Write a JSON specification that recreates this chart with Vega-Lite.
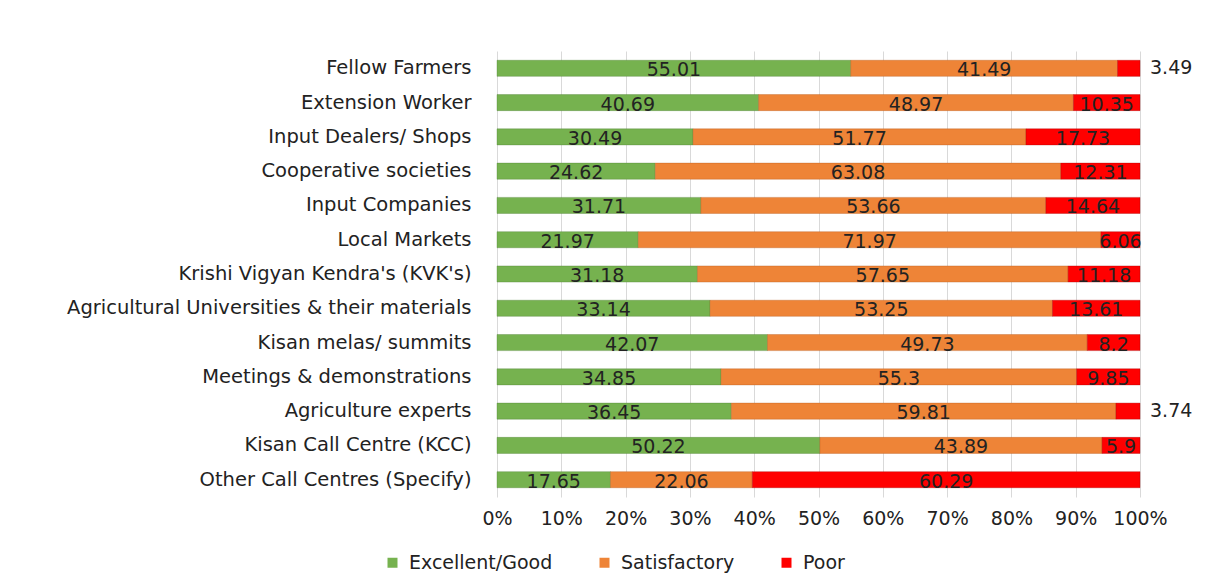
{
  "$schema": "https://vega.github.io/schema/vega-lite/v6.json",
  "width": 643,
  "height": 446,
  "autosize": {"type": "none"},
  "padding": {"left": 497, "top": 51, "right": 66, "bottom": 83},
  "background": "white",
  "config": {
    "font": "DejaVu Sans",
    "view": {"stroke": null}
  },
  "data": {
    "values": [
      {"source": "Fellow Farmers", "rating": "Excellent/Good", "value": 55.01},
      {"source": "Fellow Farmers", "rating": "Satisfactory", "value": 41.49},
      {"source": "Fellow Farmers", "rating": "Poor", "value": 3.49},
      {"source": "Extension Worker", "rating": "Excellent/Good", "value": 40.69},
      {"source": "Extension Worker", "rating": "Satisfactory", "value": 48.97},
      {"source": "Extension Worker", "rating": "Poor", "value": 10.35},
      {"source": "Input Dealers/ Shops", "rating": "Excellent/Good", "value": 30.49},
      {"source": "Input Dealers/ Shops", "rating": "Satisfactory", "value": 51.77},
      {"source": "Input Dealers/ Shops", "rating": "Poor", "value": 17.73},
      {"source": "Cooperative societies", "rating": "Excellent/Good", "value": 24.62},
      {"source": "Cooperative societies", "rating": "Satisfactory", "value": 63.08},
      {"source": "Cooperative societies", "rating": "Poor", "value": 12.31},
      {"source": "Input Companies", "rating": "Excellent/Good", "value": 31.71},
      {"source": "Input Companies", "rating": "Satisfactory", "value": 53.66},
      {"source": "Input Companies", "rating": "Poor", "value": 14.64},
      {"source": "Local Markets", "rating": "Excellent/Good", "value": 21.97},
      {"source": "Local Markets", "rating": "Satisfactory", "value": 71.97},
      {"source": "Local Markets", "rating": "Poor", "value": 6.06},
      {"source": "Krishi Vigyan Kendra's (KVK's)", "rating": "Excellent/Good", "value": 31.18},
      {"source": "Krishi Vigyan Kendra's (KVK's)", "rating": "Satisfactory", "value": 57.65},
      {"source": "Krishi Vigyan Kendra's (KVK's)", "rating": "Poor", "value": 11.18},
      {"source": "Agricultural Universities & their materials", "rating": "Excellent/Good", "value": 33.14},
      {"source": "Agricultural Universities & their materials", "rating": "Satisfactory", "value": 53.25},
      {"source": "Agricultural Universities & their materials", "rating": "Poor", "value": 13.61},
      {"source": "Kisan melas/ summits", "rating": "Excellent/Good", "value": 42.07},
      {"source": "Kisan melas/ summits", "rating": "Satisfactory", "value": 49.73},
      {"source": "Kisan melas/ summits", "rating": "Poor", "value": 8.2},
      {"source": "Meetings & demonstrations", "rating": "Excellent/Good", "value": 34.85},
      {"source": "Meetings & demonstrations", "rating": "Satisfactory", "value": 55.3},
      {"source": "Meetings & demonstrations", "rating": "Poor", "value": 9.85},
      {"source": "Agriculture experts", "rating": "Excellent/Good", "value": 36.45},
      {"source": "Agriculture experts", "rating": "Satisfactory", "value": 59.81},
      {"source": "Agriculture experts", "rating": "Poor", "value": 3.74},
      {"source": "Kisan Call Centre (KCC)", "rating": "Excellent/Good", "value": 50.22},
      {"source": "Kisan Call Centre (KCC)", "rating": "Satisfactory", "value": 43.89},
      {"source": "Kisan Call Centre (KCC)", "rating": "Poor", "value": 5.9},
      {"source": "Other Call Centres (Specify)", "rating": "Excellent/Good", "value": 17.65},
      {"source": "Other Call Centres (Specify)", "rating": "Satisfactory", "value": 22.06},
      {"source": "Other Call Centres (Specify)", "rating": "Poor", "value": 60.29}
    ]
  },
  "transform": [
    {"calculate": "indexof(['Excellent/Good','Satisfactory','Poor'], datum.rating)", "as": "ord"},
    {"stack": "value", "groupby": ["source"], "sort": [{"field": "ord", "order": "ascending"}], "offset": "normalize", "as": ["x0", "x1"]},
    {"calculate": "(datum.x0 + datum.x1) / 2", "as": "xm"}
  ],
  "encoding": {
    "y": {
      "field": "source",
      "type": "nominal",
      "sort": null,
      "scale": {"paddingInner": 0.53, "paddingOuter": 0.27},
      "axis": {
        "title": null,
        "ticks": false,
        "domain": false,
        "labelFontSize": 19.5,
        "labelColor": "#222222",
        "labelPadding": 26,
        "labelLimit": 500
      }
    }
  },
  "layer": [
    {
      "mark": {"type": "bar", "strokeWidth": 1, "strokeOpacity": 0.35},
      "encoding": {
        "x": {
          "field": "x0",
          "type": "quantitative",
          "scale": {"domain": [0, 1], "nice": false},
          "axis": {
            "title": null,
            "format": ".0%",
            "values": [0, 0.1, 0.2, 0.3, 0.4, 0.5, 0.6, 0.7, 0.8, 0.9, 1],
            "labelOverlap": false,
            "labelFlush": false,
            "ticks": false,
            "domain": false,
            "grid": true,
            "gridColor": "#d9d9d9",
            "labelFontSize": 19,
            "labelColor": "#222222",
            "labelPadding": 12
          }
        },
        "x2": {"field": "x1"},
        "color": {
          "field": "rating",
          "type": "nominal",
          "scale": {
            "domain": ["Excellent/Good", "Satisfactory", "Poor"],
            "range": ["#76b24f", "#ee8437", "#ff0000"]
          },
          "legend": {
            "title": null,
            "orient": "none",
            "direction": "horizontal",
            "legendX": -114,
            "legendY": 502,
            "symbolType": "square",
            "symbolSize": 100,
            "symbolStrokeWidth": 0,
            "labelFontSize": 19,
            "labelColor": "#222222",
            "columnPadding": 42,
            "labelOffset": 7,
            "labelLimit": 300
          }
        },
        "stroke": {
          "field": "rating",
          "type": "nominal",
          "scale": {
            "domain": ["Excellent/Good", "Satisfactory", "Poor"],
            "range": ["#4e7f33", "#b45a1e", "#a00000"]
          },
          "legend": null
        }
      }
    },
    {
      "transform": [{"filter": "datum.value >= 5"}],
      "mark": {"type": "text", "fontSize": 19, "color": "#222222", "baseline": "middle", "dy": 2},
      "encoding": {
        "x": {"field": "xm", "type": "quantitative"},
        "text": {"field": "value", "type": "quantitative"}
      }
    },
    {
      "transform": [{"filter": "datum.value < 5"}],
      "mark": {"type": "text", "fontSize": 19, "color": "#222222", "baseline": "middle", "align": "left", "dx": 10},
      "encoding": {
        "x": {"field": "x1", "type": "quantitative"},
        "text": {"field": "value", "type": "quantitative"}
      }
    }
  ]
}
